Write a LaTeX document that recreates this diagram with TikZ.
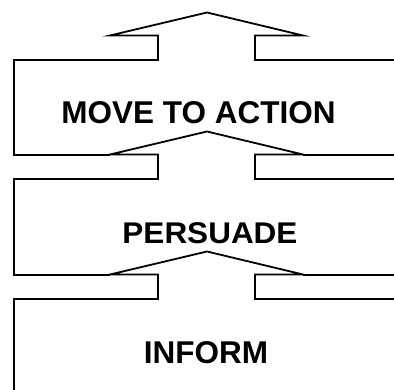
\documentclass[tikz,border=0pt]{standalone}
\usepackage{fontspec}
\setmainfont{Liberation Sans}
\begin{document}
\begin{tikzpicture}[x=1pt,y=-1pt,
  outline/.style={line width=1.8pt, line join=miter, line cap=butt},
  stagelabel/.style={font=\bfseries\fontsize{31.5}{36}\selectfont, inner sep=0pt, anchor=center}]
\useasboundingbox (0,0) rectangle (394,390);
\clip (0,0) rectangle (394,390);
% arrow-shaped tops and boxes: top y / bottom y
\foreach \t/\b in {60/155,179/275,299/400}{
  \draw[outline] (14,\b) -- (14,\t) -- (158,\t) -- (158,\t-24.5) -- (110,\t-24.5)
     -- (207,\t-47.5) -- (303,\t-24.5) -- (255,\t-24.5) -- (255,\t) -- (400,\t);
}
% bottom edges of upper boxes (meeting the next arrow base)
\foreach \b in {155,275}{
  \draw[outline] (13.1,\b) -- (110,\b);
  \draw[outline] (303,\b) -- (400,\b);
}
\node[stagelabel] (action) at (198.5,112.5) {MOVE TO ACTION};
\node[stagelabel] (persuade) at (210,233) {\scalebox{1}[0.95]{PERSUADE}};
\node[stagelabel] (inform) at (206,352.5) {INFORM};
\end{tikzpicture}
\end{document}
